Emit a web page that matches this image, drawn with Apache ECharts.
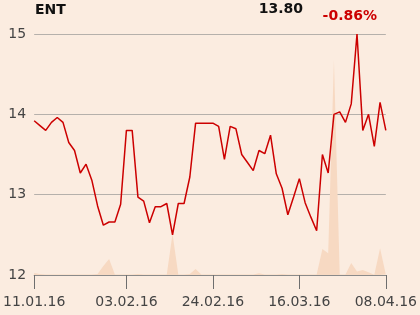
<!DOCTYPE html>
<html>
<head>
<meta charset="utf-8">
<script src="https://cdn.jsdelivr.net/npm/echarts@6/dist/echarts.min.js"></script>
<style>
html,body{margin:0;padding:0;background:#fbece0;}
#c{width:420px;height:315px;}
</style>
</head>
<body>
<div id="c"></div>
<script>
const dates = [
  "11.01.16","12.01.16","13.01.16","14.01.16","15.01.16",
  "19.01.16","20.01.16","21.01.16","22.01.16",
  "25.01.16","26.01.16","27.01.16","28.01.16","29.01.16",
  "01.02.16","02.02.16","03.02.16","04.02.16","05.02.16",
  "08.02.16","09.02.16","10.02.16","11.02.16","12.02.16",
  "15.02.16","16.02.16","17.02.16","18.02.16","19.02.16",
  "22.02.16","23.02.16","24.02.16","25.02.16","26.02.16",
  "29.02.16","01.03.16","02.03.16","03.03.16","04.03.16",
  "07.03.16","08.03.16","09.03.16","10.03.16","11.03.16",
  "14.03.16","15.03.16","16.03.16","17.03.16","18.03.16",
  "21.03.16","22.03.16","23.03.16","24.03.16",
  "29.03.16","30.03.16","31.03.16","01.04.16",
  "04.04.16","05.04.16","06.04.16","07.04.16","08.04.16"
];
const prices = [
  13.92,13.86,13.80,13.90,13.96,13.90,13.65,13.55,13.27,13.38,
  13.18,12.86,12.62,12.66,12.66,12.88,13.80,13.80,12.97,12.92,
  12.65,12.85,12.85,12.89,12.50,12.89,12.89,13.22,13.89,13.89,
  13.89,13.89,13.85,13.44,13.85,13.82,13.50,13.40,13.30,13.55,
  13.51,13.74,13.26,13.08,12.75,12.97,13.20,12.90,12.72,12.55,
  13.50,13.27,14.00,14.03,13.90,14.13,15.00,13.80,14.00,13.60,
  14.15,13.80
];
const volumes = [
  2,1,0.5,0.5,0.5,0.5,0.5,0.5,0.5,0.5,
  0.5,1,9,16,0.5,0.5,0.5,0.5,1,0.5,
  0.5,0.5,0.5,0.5,41,0.5,0.5,1,6,0.5,
  0.5,0.5,0.5,0.5,0.5,0.5,0.5,0.5,0.5,1.7,
  0.5,0.5,0.5,1,0.5,0.5,0.5,0.5,0.5,0.5,
  26,21.6,214,0.5,0.5,12,3.6,5,2.7,0.3,
  26.6,0.5
];
const labelIdx = [0,16,31,46,61];
const yTicks = [12,13,14,15];
const ticker = "ENT";
const lastPrice = "13.80";
const change = "-0.86%";

const chart = echarts.init(document.getElementById('c'), null, {renderer:'canvas'});
const showIdx = (i) => labelIdx.indexOf(i) >= 0;
chart.setOption({
  backgroundColor:'#fbece0',
  animation:false,
  grid:{left:34,right:34,top:34,bottom:40},
  xAxis:{
    type:'category',
    data:dates,
    boundaryGap:false,
    axisLine:{show:true,lineStyle:{color:'#8a8a8a',width:1}},
    axisTick:{show:true,length:14,interval:(i)=>showIdx(i),lineStyle:{color:'#6e6e6e',width:1}},
    axisLabel:{interval:(i)=>showIdx(i),margin:20,fontSize:14,color:'#444',fontFamily:'DejaVu Sans'},
    splitLine:{show:false}
  },
  yAxis:[{
    type:'value',
    min:yTicks[0],max:yTicks[yTicks.length-1],interval:1,
    axisLine:{show:false},axisTick:{show:false},
    axisLabel:{margin:8,fontSize:14,color:'#444',fontFamily:'DejaVu Sans'},
    splitLine:{show:true,lineStyle:{color:'#b5b0ab',width:1}}
  },{
    type:'value',min:0,max:240,show:false,splitLine:{show:false}
  }],
  series:[{
    type:'line',
    yAxisIndex:1,
    data:volumes,
    symbol:'none',
    lineStyle:{width:0},
    areaStyle:{color:'#f7d9c2',opacity:1},
    z:1
  },{
    type:'line',
    data:prices,
    symbol:'none',
    lineStyle:{color:'#cc0000',width:1.5},
    z:3
  }],
  graphic:[
    {type:'text',left:35,top:3,style:{text:ticker,font:'bold 14px DejaVu Sans',fill:'#111'}},
    {type:'text',right:117,top:2,style:{text:lastPrice,font:'bold 14px DejaVu Sans',fill:'#111'}},
    {type:'text',right:43,top:9,style:{text:change,font:'bold 14px DejaVu Sans',fill:'#cc0000'}}
  ]
});
</script>
</body>
</html>
